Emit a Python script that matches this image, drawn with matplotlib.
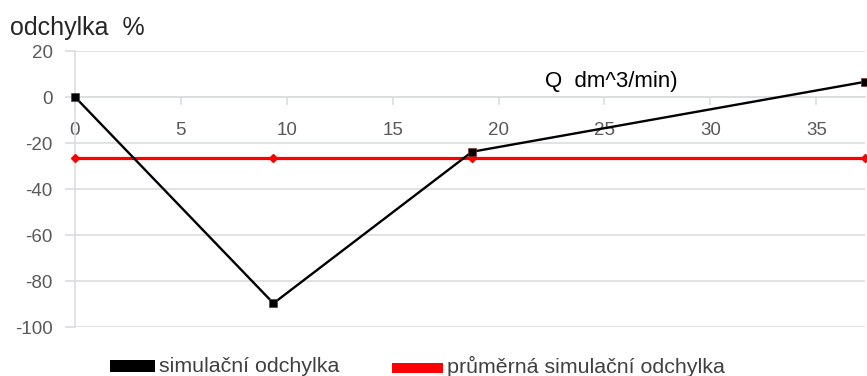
import matplotlib
matplotlib.use("Agg")
import matplotlib.pyplot as plt
from matplotlib.patches import Rectangle

plt.rcParams['font.family'] = ['Liberation Sans', 'DejaVu Sans']
plt.rcParams['axes.unicode_minus'] = False

# Flow rate Q [dm^3/min] and simulation deviation [%]
q_values = [0, 9.37, 18.75, 37.3]
deviation = [0, -89.7, -23.8, 6.6]
# Mean simulation deviation [%]
mean_deviation = [-26.7, -26.7, -26.7, -26.7]

x_ticks = [0, 5, 10, 15, 20, 25, 30, 35]
y_ticks = [-100, -80, -60, -40, -20, 0, 20]

series_label = "simulační odchylka"
mean_label = "průměrná simulační odchylka"

W, H = 867, 376
fig = plt.figure(figsize=(W / 100, H / 100), dpi=100)
ax = fig.add_axes([75 / W, 1 - 327 / H, 790 / W, 276 / H])

grid_color = "#d9dee1"
tick_color = "#595959"

ax.set_xlim(0, 37.3)
ax.set_ylim(-100, 20)
ax.set_yticks(y_ticks)
ax.set_xticks(x_ticks)

ax.yaxis.grid(True, color=grid_color, linewidth=1.2)
ax.set_axisbelow(True)
for side in ("top", "right"):
    ax.spines[side].set_visible(False)
ax.spines["left"].set_color(grid_color)
ax.spines["left"].set_linewidth(1.2)
ax.spines["bottom"].set_position(("data", 0))
ax.spines["bottom"].set_color(grid_color)
ax.spines["bottom"].set_linewidth(1.2)

ax.tick_params(axis="y", length=7, width=1.2, color=grid_color, pad=9,
               labelsize=13.5, labelcolor=tick_color)
ax.tick_params(axis="x", length=6, width=1.2, color=grid_color, direction="out",
               pad=12, labelsize=13.5, labelcolor=tick_color)

ax.plot(q_values, mean_deviation, color="#ff0000", linewidth=2.3,
        marker="D", markersize=4, zorder=3, clip_on=False)
ax.plot(q_values, deviation, color="#000000", linewidth=1.7,
        marker="s", markersize=6, markeredgecolor="#7a3030",
        markeredgewidth=0.5, zorder=4, clip_on=False)

fig.text(10 / W, 1 - 28 / H, "odchylka  %", fontsize=18,
         ha="left", va="center", color="#262626")
fig.text(545 / W, 1 - 82 / H, "Q  dm^3/min)", fontsize=16,
         ha="left", va="center", color="#000000")

# Legend: colour swatches with their labels beneath the plot
fig.patches.append(Rectangle((110 / W, 1 - 372 / H), 45 / W, 12 / H,
                             transform=fig.transFigure, facecolor="#000000",
                             edgecolor="none"))
fig.text(159 / W, 1 - 366 / H, series_label, fontsize=15.4,
         ha="left", va="center", color="#404040")
fig.patches.append(Rectangle((392 / W, 1 - 373 / H), 51 / W, 10 / H,
                             transform=fig.transFigure, facecolor="#ff0000",
                             edgecolor="none"))
fig.text(447 / W, 1 - 366 / H, mean_label, fontsize=15.4,
         ha="left", va="center", color="#404040")

fig.savefig("out.png", dpi=100)
